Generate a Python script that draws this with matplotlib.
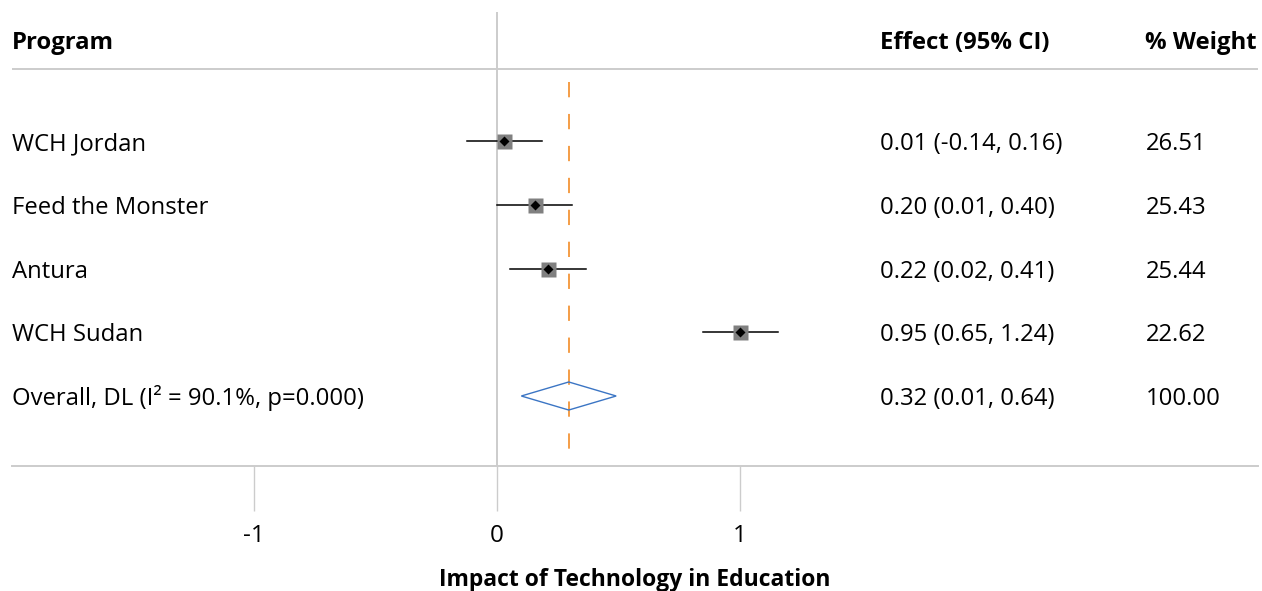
import numpy as np
import matplotlib
matplotlib.use("Agg")
import matplotlib.pyplot as plt
from matplotlib import transforms

plt.rcParams['font.family'] = ['Open Sans', 'DejaVu Sans']
plt.rcParams['lines.scale_dashes'] = False

# data
programs = ['WCH Jordan', 'Feed the Monster', 'Antura', 'WCH Sudan']
point = [0.03, 0.155, 0.21, 1.00]
ci_low = [-0.125, 0.0, 0.055, 0.845]
ci_high = [0.185, 0.31, 0.365, 1.155]
effect_txt = ['0.01 (-0.14, 0.16)', '0.20 (0.01, 0.40)', '0.22 (0.02, 0.41)',
              '0.95 (0.65, 1.24)']
weight_txt = ['26.51', '25.43', '25.44', '22.62']

overall_label = 'Overall, DL (I² = 90.1%, p=0.000)'
overall = [0.10, 0.295, 0.49]   # low, centre, high
overall_effect = '0.32 (0.01, 0.64)'
overall_weight = '100.00'

xticks = [-1, 0, 1]
xlabel = 'Impact of Technology in Education'

W, H = 1262, 591
fig = plt.figure(figsize=(W / 100, H / 100), dpi=100)
# axes box from px (12, 12) to (1258, 466)
ax = fig.add_axes([12 / W, (H - 466) / H, 1246 / W, 454 / H])
px_per_unit = 243.2
ax.set_xlim((12 - 497) / px_per_unit, (1258 - 497) / px_per_unit)
row_h = 63.75
ax.set_ylim((466 - 141) / row_h, (12 - 141) / row_h)

grey = '#cccccc'
for s in ['top', 'left', 'right']:
    ax.spines[s].set_visible(False)
ax.spines['bottom'].set_color(grey)
ax.spines['bottom'].set_linewidth(1.4)
ax.set_yticks([])
ax.set_xticks(xticks)
ax.set_xticklabels([str(t) for t in xticks], fontsize=17.5)
ax.tick_params(axis='x', length=32.4, width=1.0, color=grey, pad=9)
fig.text(635 / W, (H - 586) / H, xlabel,
         fontsize=16.5, fontweight='bold', ha='center', va='baseline')

ax.axvline(0, color=grey, lw=1.4, zorder=0)
ax.axhline((69 - 141) / row_h, color=grey, lw=1.4, zorder=0)

ax.plot([overall[1], overall[1]], [-0.92, 5.0], color='#f28c28', lw=1.2,
        dashes=(11, 12), zorder=1)

rows = np.arange(len(programs))
for r in rows:
    ax.plot([ci_low[r], ci_high[r]], [r, r], color='black', lw=1.1, zorder=2)
ax.plot(point, rows, 's', ms=10.8, color='#808080', mec='none', zorder=3)
ax.plot(point, rows, 'D', ms=5.5, color='black', mec='none', zorder=4)

r0 = len(programs)
dh = 0.22
ax.fill([overall[0], overall[1], overall[2], overall[1]],
        [r0, r0 - dh, r0, r0 + dh], facecolor='none', edgecolor='#3b75c4',
        lw=1.0, zorder=3)

tr = transforms.blended_transform_factory(fig.transFigure, ax.transData)
fs = 17.2
base = 9 / row_h   # baseline sits a little below the row centre
hy = (49 - 141) / row_h
ax.text(12 / W, hy, 'Program', transform=tr, fontsize=fs, fontweight='bold',
        va='baseline', ha='left')
ax.text(880 / W, hy, 'Effect (95% CI)', transform=tr, fontsize=fs,
        fontweight='bold', va='baseline', ha='left')
ax.text(1257 / W, hy, '% Weight', transform=tr, fontsize=fs,
        fontweight='bold', va='baseline', ha='right')
for r in rows:
    ax.text(12 / W, r + base, programs[r], transform=tr, fontsize=fs, va='baseline')
    ax.text(880 / W, r + base, effect_txt[r], transform=tr, fontsize=fs, va='baseline')
    ax.text(1146 / W, r + base, weight_txt[r], transform=tr, fontsize=fs, va='baseline')
ax.text(12 / W, r0 + base, overall_label, transform=tr, fontsize=fs, va='baseline')
ax.text(880 / W, r0 + base, overall_effect, transform=tr, fontsize=fs, va='baseline')
ax.text(1146 / W, r0 + base, overall_weight, transform=tr, fontsize=fs, va='baseline')

fig.savefig('out.png', dpi=100)
